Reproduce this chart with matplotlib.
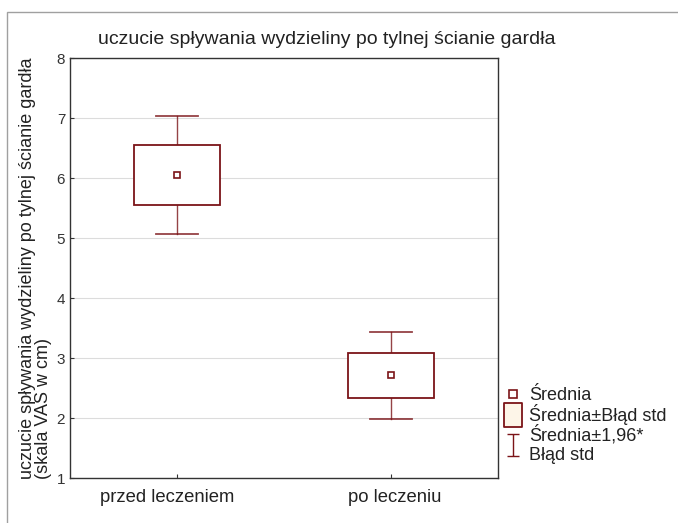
import matplotlib.pyplot as plt
import matplotlib.transforms as mtransforms
from matplotlib.patches import Rectangle
from matplotlib.lines import Line2D
from matplotlib.path import Path

plt.rcParams['font.family'] = ['Liberation Sans', 'DejaVu Sans']

# dane
grupy = ["przed leczeniem", "po leczeniu"]
srednia = [6.05, 2.71]
blad_std = [0.50, 0.37]
ci_196 = [0.98, 0.73]

kolor = "#7b1418"

fig = plt.figure(figsize=(6.78, 5.23), dpi=100)
ax = fig.add_axes([70 / 678, 45 / 523, 428 / 678, 420 / 523])

# ramka wokół całego wykresu (jak w Statistica)
fig.patches.append(Rectangle((7 / 678, -0.1), 1.1, 1 - 12 / 523 + 0.1,
                             transform=fig.transFigure, fill=False,
                             edgecolor="#a0a0a0", linewidth=1.0))

for i, (m, se, ci) in enumerate(zip(srednia, blad_std, ci_196)):
    ax.plot([i, i], [m - ci, m - se], color=kolor, lw=1.0, alpha=0.8, zorder=3)
    ax.plot([i, i], [m + se, m + ci], color=kolor, lw=1.0, alpha=0.8, zorder=3)
    ax.plot([i - 0.1, i + 0.1], [m - ci, m - ci], color=kolor, lw=1.3, alpha=0.8, zorder=3)
    ax.plot([i - 0.1, i + 0.1], [m + ci, m + ci], color=kolor, lw=1.3, alpha=0.8, zorder=3)
    ax.add_patch(Rectangle((i - 0.2, m - se), 0.4, 2 * se, facecolor="white",
                           edgecolor=kolor, lw=1.3, zorder=4))
    ax.plot(i, m, marker="s", ms=5, mfc="white", mec=kolor, mew=1.2, zorder=5)

ax.set_xlim(-0.5, 1.5)
ax.set_ylim(1, 8)
ax.set_xticks(range(len(grupy)))
ax.set_xticklabels(grupy)
ax.set_yticks(range(1, 9))
ax.tick_params(direction="in", length=3, colors="#333333")
ax.tick_params(axis="y", labelsize=11)
ax.tick_params(axis="x", labelsize=13.3, pad=8, labelcolor="#222222")
# w oryginale podpisy nie są idealnie wyśrodkowane pod kreskami
for lab, dx in zip(ax.get_xticklabels(), [-10, 4]):
    lab.set_transform(lab.get_transform() +
                      mtransforms.ScaledTranslation(dx / 100, 0, fig.dpi_scale_trans))
ax.grid(axis="y", color="#dcdcdc", lw=0.8)
ax.set_axisbelow(True)
for s in ax.spines.values():
    s.set_color("#333333")
    s.set_linewidth(1.0)

fig.text(327 / 678, 1 - 40 / 523, "uczucie spływania wydzieliny po tylnej ścianie gardła",
         fontsize=14, ha="center", va="center", color="#222222")
ax.set_ylabel("uczucie spływania wydzieliny po tylnej ścianie gardła\n(skala VAS w cm)",
              fontsize=13, labelpad=3, linespacing=0.95, color="#222222")
ax.yaxis.label.set_multialignment("left")

# legenda poza osiami
kreska = Path([(-0.5, 1), (0.5, 1), (0, 1), (0, -1), (-0.5, -1), (0.5, -1)],
              [Path.MOVETO, Path.LINETO, Path.MOVETO, Path.LINETO, Path.MOVETO, Path.LINETO])
prostokat = Path([(-0.75, -1), (0.75, -1), (0.75, 1), (-0.75, 1), (-0.75, -1)],
                 [Path.MOVETO, Path.LINETO, Path.LINETO, Path.LINETO, Path.CLOSEPOLY])
uchwyty = [
    Line2D([], [], ls="none", marker="s", ms=6, mfc="white", mec=kolor, mew=1.2),
    Line2D([], [], ls="none", marker=prostokat, ms=17, mfc="#fdf5e8", mec=kolor, mew=1.3),
    Line2D([], [], ls="none", marker=kreska, ms=16, mfc="none", mec=kolor, mew=1.0),
]
fig.legend(uchwyty, ["Średnia", "Średnia±Błąd std", "Średnia±1,96*\nBłąd std"],
           loc="upper left", bbox_to_anchor=(493 / 678, 1 - 376 / 523),
           frameon=False, fontsize=13, handlelength=1.0, handletextpad=0.4,
           labelspacing=0.0, borderpad=0.1, labelcolor="#222222")

fig.savefig("out.png", dpi=100)
